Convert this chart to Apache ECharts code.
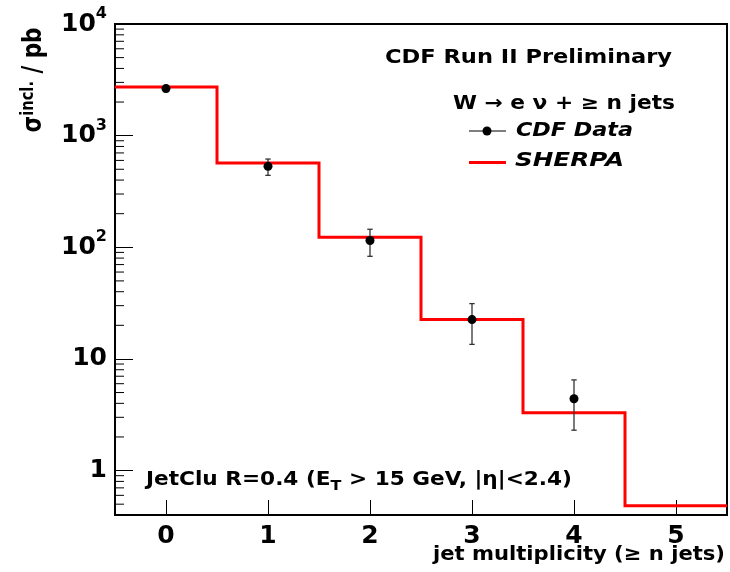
<!DOCTYPE html>
<html>
<head>
<meta charset="utf-8">
<script src="https://cdn.jsdelivr.net/npm/echarts@6/dist/echarts.min.js"></script>
<style>
  html, body { margin: 0; padding: 0; background: #fff; }
  #chart { width: 730px; height: 572px; }
</style>
</head>
<body>
<div id="chart"></div>
<script>
// Jet multiplicity bins (inclusive, >= n jets)
const jetBins = [0, 1, 2, 3, 4, 5];
// SHERPA prediction per bin (pb)
const sherpaXsec = [2730, 569, 123, 22.5, 3.3, 0.483];
// CDF measured points (pb) with lower / upper error bounds
const dataBins = [0, 1, 2, 3, 4];
const dataXsec = [2640, 531, 115, 22.5, 4.4];
const dataLow  = [2480, 441, 83, 13.5, 2.30];
const dataHigh = [2810, 617, 145, 31.3, 6.49];
// Axis ranges and tick values
const xRange = [-0.5, 5.5];
const yRange = [0.4, 10000];
const yDecades = [0.1, 1, 10, 100, 1000];
const yMinorSteps = [2, 3, 4, 5, 6, 7, 8, 9];

const FONT = '"DejaVu Sans", "Liberation Sans", sans-serif';

// histogram outline: each bin contributes its left and right edge
const sherpaLine = [];
jetBins.forEach((n, i) => {
  sherpaLine.push([n - 0.5, sherpaXsec[i]]);
  sherpaLine.push([n + 0.5, sherpaXsec[i]]);
});

const points = dataBins.map((n, i) => [n, dataXsec[i]]);
const errors = dataBins.map((n, i) => [n, dataLow[i], dataHigh[i]]);

const minorTicks = [];
yDecades.forEach(d => yMinorSteps.forEach(s => {
  const v = d * s;
  if (v > yRange[0] && v < yRange[1]) minorTicks.push([v]);
}));

function yLabel(v) {
  const e = Math.round(Math.log10(v));
  if (Math.abs(Math.log10(v) - e) > 1e-6) return '';
  if (e === 0) return '{b|1}';
  if (e === 1) return '{b|10}';
  if (e > 1) return '{b|10}{p|' + e + '}';
  return '';
}

// text measurement for horizontal stretching of annotations
const mctx = document.createElement('canvas').getContext('2d');
function textW(str, font) { mctx.font = font; return mctx.measureText(str).width; }

const fB = 'bold 19px ' + FONT;
const fBI = 'italic bold 19px ' + FONT;

function stretchedText(str, font, x, y, width, align) {
  return {
    type: 'text', x: x, y: y,
    scaleX: width / textW(str, font),
    style: { text: str, font: font, fill: '#000', align: align || 'left', verticalAlign: 'middle' }
  };
}

// JetClu annotation with subscript
const jetA = 'JetClu R=0.4 (E', jetSub = 'T', jetB = ' > 15 GeV, |η|<2.4)';
const fSub = 'bold 14px ' + FONT;
const jetW = textW(jetA, fB) + textW(jetSub, fSub) + textW(jetB, fB);

// y-axis title
const fTitle = 'bold 22px ' + FONT;
const fTitleSup = 'bold 15px ' + FONT;
const yTitleW = textW('σ', fTitle) + textW('incl.', fTitleSup) + textW(' / pb', fTitle);

const chart = echarts.init(document.getElementById('chart'), null, { renderer: 'canvas' });

chart.setOption({
  animation: false,
  backgroundColor: '#fff',
  grid: {
    left: 115, right: 2, top: 24, bottom: 57,
    show: true, borderColor: '#000', borderWidth: 2, backgroundColor: 'transparent'
  },
  xAxis: {
    type: 'value',
    min: xRange[0], max: xRange[1],
    axisLine: { show: false, onZero: false },
    splitLine: { show: false },
    axisTick: { show: true, inside: true, length: 15, lineStyle: { color: '#000', width: 1 } },
    axisLabel: {
      margin: 9,
      fontFamily: FONT, fontWeight: 'bold', fontSize: 25, color: '#000',
      formatter: v => (Math.abs(v - Math.round(v)) < 1e-6 ? String(Math.round(v)) : '')
    }
  },
  yAxis: {
    type: 'log',
    logBase: 10,
    min: yRange[0], max: yRange[1],
    axisLine: { show: false, onZero: false },
    splitLine: { show: false },
    axisTick: { show: true, inside: true, length: 18, lineStyle: { color: '#000', width: 1 } },
    axisLabel: {
      margin: 8,
      fontFamily: FONT, fontWeight: 'bold', fontSize: 25, color: '#000',
      formatter: yLabel,
      rich: {
        b: { fontFamily: FONT, fontWeight: 'bold', fontSize: 25, lineHeight: 36, color: '#000' },
        p: { fontFamily: FONT, fontWeight: 'bold', fontSize: 16, lineHeight: 16, verticalAlign: 'top', color: '#000' }
      }
    }
  },
  series: [
    {
      name: 'minor ticks',
      type: 'custom',
      silent: true,
      clip: false,
      data: minorTicks,
      encode: { y: 0 },
      renderItem: (params, api) => {
        const p = api.coord([xRange[0], api.value(0)]);
        return {
          type: 'line',
          shape: { x1: p[0], y1: p[1], x2: p[0] + 9, y2: p[1] },
          style: { stroke: '#000', lineWidth: 1 }
        };
      }
    },
    {
      name: 'SHERPA',
      type: 'line',
      data: sherpaLine,
      showSymbol: false,
      symbol: 'none',
      lineStyle: { color: '#ff0000', width: 3, join: 'miter' },
      z: 3
    },
    {
      name: 'CDF Data errors',
      type: 'custom',
      data: errors,
      encode: { x: 0, y: [1, 2] },
      z: 4,
      renderItem: (params, api) => {
        const x = api.value(0);
        const lo = api.coord([x, api.value(1)]);
        const hi = api.coord([x, api.value(2)]);
        const c = 2.7;
        const st = { stroke: '#333', lineWidth: 1.3 };
        return {
          type: 'group',
          children: [
            { type: 'line', shape: { x1: lo[0], y1: lo[1], x2: hi[0], y2: hi[1] }, style: st },
            { type: 'line', shape: { x1: lo[0] - c, y1: lo[1], x2: lo[0] + c, y2: lo[1] }, style: st },
            { type: 'line', shape: { x1: hi[0] - c, y1: hi[1], x2: hi[0] + c, y2: hi[1] }, style: st }
          ]
        };
      }
    },
    {
      name: 'CDF Data',
      type: 'scatter',
      data: points,
      symbol: 'circle',
      symbolSize: 9,
      itemStyle: { color: '#000', opacity: 1 },
      z: 5
    }
  ],
  graphic: [
    stretchedText('CDF Run II Preliminary', fB, 385, 58, 287),
    stretchedText('W → e ν + ≥ n jets', fB, 453, 104, 222),
    { type: 'line', shape: { x1: 469, y1: 131, x2: 506, y2: 131 }, style: { stroke: '#555', lineWidth: 1.5 } },
    { type: 'circle', shape: { cx: 487, cy: 131, r: 4.5 }, style: { fill: '#000' } },
    stretchedText('CDF Data', fBI, 516, 131, 117),
    { type: 'line', shape: { x1: 469, y1: 162.5, x2: 506, y2: 162.5 }, style: { stroke: '#ff0000', lineWidth: 3 } },
    stretchedText('SHERPA', fBI, 515, 161, 109),
    {
      type: 'text', x: 146, y: 480, scaleX: 426 / jetW,
      style: {
        text: '{n|' + jetA + '}{s|' + jetSub + '}{n|' + jetB + '}',
        align: 'left', verticalAlign: 'middle',
        rich: {
          n: { font: fB, fill: '#000', lineHeight: 26 },
          s: { font: fSub, fill: '#000', lineHeight: 14, verticalAlign: 'bottom' }
        }
      }
    },
    stretchedText('jet multiplicity (≥ n jets)', 'bold 20px ' + FONT, 725, 555, 292, 'right'),
    {
      type: 'text', x: 34, y: 80, rotation: Math.PI / 2,
      scaleX: 105 / yTitleW, scaleY: 1.2,
      style: {
        text: '{m|σ}{s|incl.}{m| / pb}',
        align: 'center', verticalAlign: 'middle',
        rich: {
          m: { font: fTitle, fill: '#000', lineHeight: 24 },
          s: { font: fTitleSup, fill: '#000', lineHeight: 15, verticalAlign: 'top' }
        }
      }
    }
  ]
});
</script>
</body>
</html>
